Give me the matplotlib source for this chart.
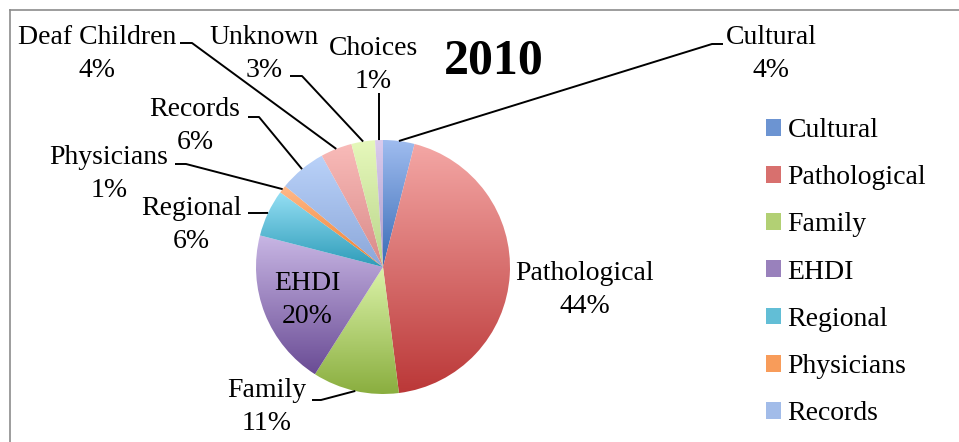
import numpy as np
import matplotlib.pyplot as plt
from matplotlib.patches import Patch
from matplotlib.colors import to_rgb, to_hex

# data
categories = ["Cultural", "Pathological", "Family", "EHDI", "Regional",
              "Physicians", "Records", "Deaf Children", "Unknown", "Choices"]
shares = [4, 44, 11, 20, 6, 1, 6, 4, 3, 1]
legend_count = 7
title = "2010"

# gradient colours per slice (top, bottom)
top_colors = ["#9fbcef", "#f4a7a5", "#dbf3a9", "#c8b6e4", "#95dff4",
              "#ffb98a", "#bad2f9", "#f9bbb9", "#e6f8bb", "#dacbed"]
bottom_colors = ["#3a6cb6", "#bb3838", "#8aae3f", "#6a4c95", "#2e9cb9",
                 "#f07e2a", "#8ba7d9", "#d98a88", "#b9d58a", "#a99ac9"]

W, H = 959, 442
FONT = "Liberation Serif"
FS = 20

# label layout, pixel coords from the top-left corner
label_pos = {
    "Cultural": (771, 54), "Pathological": (585, 290), "Family": (267, 407),
    "EHDI": (307, 300), "Regional": (191, 225), "Physicians": (109, 174),
    "Records": (195, 126), "Deaf Children": (97, 54), "Unknown": (264, 54),
    "Choices": (373, 65),
}
leader_pts = {
    "Cultural": [(723, 44), (712, 44)],
    "Choices": [(379, 93)],
    "Unknown": [(290, 76), (302, 76)],
    "Deaf Children": [(180, 43), (192, 43)],
    "Records": [(248, 117), (259, 117)],
    "Physicians": [(175, 164), (186, 164)],
    "Regional": [(248, 213), (260, 213)],
    "Family": [(312, 400), (321, 400)],
}


def grad(c_top, c_bot, n=128):
    a = np.array(to_rgb(c_bot))
    b = np.array(to_rgb(c_top))
    t = np.linspace(0, 1, n)[:, None]
    return (a + (b - a) * t)[:, None, :]


fig = plt.figure(figsize=(W / 100, H / 100), dpi=100)
ax = fig.add_axes([0, 0, 1, 1])

cx, cy, r = 383, H - 267, 127
wedges, _ = ax.pie(shares, startangle=90, counterclock=False,
                   center=(cx, cy), radius=r, frame=True,
                   wedgeprops=dict(linewidth=0))

# fill every wedge with a vertical gradient
for w, ct, cb in zip(wedges, top_colors, bottom_colors):
    w.set_facecolor("none")
    ext = w.get_path().get_extents()
    im = ax.imshow(grad(ct, cb), origin="lower", aspect="auto",
                   extent=(ext.x0, ext.x1, ext.y0, ext.y1),
                   interpolation="bilinear", zorder=1)
    im.set_clip_path(w)

# labels + leader lines
for w, name, v in zip(wedges, categories, shares):
    tx, ty = label_pos[name]
    ax.text(tx, H - ty, f"{name}\n{v}%", ha="center", va="center",
            fontsize=FS, family=FONT, linespacing=1.45, zorder=5)
    if name in leader_pts:
        mid = np.deg2rad((w.theta1 + w.theta2) / 2)
        ex, ey = cx + r * np.cos(mid), cy + r * np.sin(mid)
        pts = leader_pts[name] + [(ex, H - ey)]
        ax.plot([p[0] for p in pts], [H - p[1] for p in pts],
                color="black", lw=1.4, zorder=4, solid_capstyle="butt")

ax.text(494, H - 61, title, ha="center", va="center", fontsize=36,
        fontweight="bold", family=FONT)

# legend (only the first seven entries fit)
mids = [to_hex((np.array(to_rgb(a)) + np.array(to_rgb(b))) / 2)
        for a, b in zip(top_colors, bottom_colors)]
handles = [Patch(facecolor=c, edgecolor="none") for c in mids]
ax.legend(handles[:legend_count], categories[:legend_count],
          loc="upper left", bbox_to_anchor=(766 / W, 1 - 118 / H),
          frameon=False, prop={"family": FONT, "size": FS},
          handlelength=0.55, handleheight=0.55, handletextpad=0.22,
          labelspacing=0.8, borderpad=0, borderaxespad=0)

# chart frame (top and left edges visible)
ax.plot([9.5, W], [H - 9.5, H - 9.5], color="#8c8c8c", lw=1.2, zorder=6)
ax.plot([9.5, 9.5], [0, H - 9.5], color="#8c8c8c", lw=1.2, zorder=6)

ax.set_xlim(0, W)
ax.set_ylim(0, H)
ax.set_aspect("equal")
ax.axis("off")

fig.savefig("out.png", dpi=100)
